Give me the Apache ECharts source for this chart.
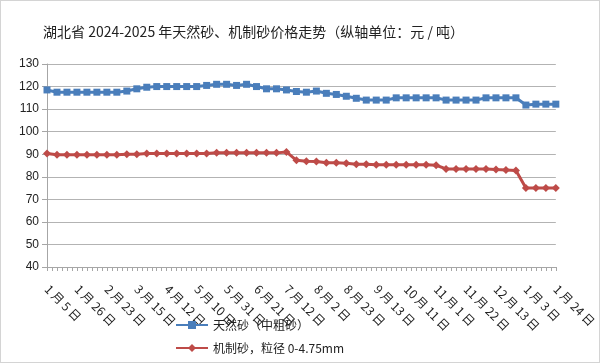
<!DOCTYPE html>
<html>
<head>
<meta charset="utf-8">
<script src="https://cdn.jsdelivr.net/npm/echarts@6/dist/echarts.min.js"></script>
<style>
html,body{margin:0;padding:0;background:#fff;}
#c{width:600px;height:363px;box-sizing:border-box;border:1px solid #d4d4d4;}
</style>
</head>
<body>
<div id="c"></div>
<script>
var titleText = '湖北省 2024-2025 年天然砂、机制砂价格走势（纵轴单位：元 / 吨）';
var categories = ['1 月 5 日','1 月 12 日','1 月 19 日','1 月 26 日','2 月 2 日','2 月 16 日','2 月 23 日','3 月 1 日','3 月 8 日','3 月 15 日','3 月 22 日','3 月 29 日','4 月 12 日','4 月 19 日','4 月 26 日','5 月 10 日','5 月 17 日','5 月 24 日','5 月 31 日','6 月 7 日','6 月 14 日','6 月 21 日','6 月 28 日','7 月 5 日','7 月 12 日','7 月 19 日','7 月 26 日','8 月 2 日','8 月 9 日','8 月 16 日','8 月 23 日','8 月 30 日','9 月 6 日','9 月 13 日','9 月 20 日','9 月 27 日','10 月 11 日','10 月 18 日','10 月 25 日','11 月 1 日','11 月 8 日','11 月 15 日','11 月 22 日','11 月 29 日','12 月 6 日','12 月 13 日','12 月 20 日','12 月 27 日','1 月 3 日','1 月 10 日','1 月 17 日','1 月 24 日'];
var seriesNames = ['天然砂（中粗砂）','机制砂，粒径 0-4.75mm'];
var naturalSand = [118.5,117.5,117.5,117.5,117.5,117.5,117.5,117.5,118,119,119.7,120,120,120,120,120,120.5,121,121,120.5,121,120,119,119,118.5,117.8,117.5,118,117,116.5,115.7,114.8,114,114,114,115,115,115,115,115,114,114,114,114,115,115,115,115,111.8,112.2,112.2,112.2];
var machineSand = [90.3,89.8,89.8,89.8,89.8,89.8,89.8,89.8,90,90,90.3,90.3,90.3,90.3,90.3,90.3,90.3,90.6,90.6,90.6,90.6,90.6,90.6,90.6,91,87.3,86.9,86.8,86.2,86.2,86,85.6,85.6,85.3,85.3,85.3,85.3,85.3,85.3,85.1,83.5,83.5,83.5,83.5,83.5,83.2,83,82.8,75,75,75,75];
var yMin = 40, yMax = 130, yStep = 10;

var chart = echarts.init(document.getElementById('c'), null, {renderer:'canvas'});
chart.setOption({
  animation:false,
  backgroundColor:'#fff',
  title:{text:titleText,left:37,top:19,textStyle:{fontFamily:'Noto Sans CJK SC',fontSize:14,fontWeight:'normal',color:'#222'}},
  grid:{left:46,right:37,top:63,bottom:95,containLabel:false},
  legend:{
    orient:'vertical',left:174,top:318,height:44,padding:0,itemWidth:32,itemHeight:10,itemGap:11,
    textStyle:{fontFamily:'Noto Sans CJK SC',fontSize:12,color:'#222'},
    data:seriesNames
  },
  xAxis:[{
    type:'category',data:categories,boundaryGap:false,
    axisLine:{lineStyle:{color:'#a6a6a6',width:1}},
    axisTick:{show:false},
    axisLabel:{interval:2,rotate:-45,margin:20,fontFamily:'Noto Sans CJK SC',fontSize:12,color:'#222'},
    splitLine:{show:false}
  },{
    type:'value',min:0,max:categories.length-1,interval:0.5,position:'bottom',
    axisLine:{show:false},
    axisTick:{show:true,length:4,lineStyle:{color:'#a6a6a6'}},
    axisLabel:{show:false},splitLine:{show:false}
  }],
  yAxis:{
    type:'value',min:yMin,max:yMax,interval:yStep,
    axisLine:{show:true,lineStyle:{color:'#a6a6a6'}},
    axisTick:{show:true,length:5,lineStyle:{color:'#a6a6a6'}},
    axisLabel:{margin:8,fontFamily:'Liberation Sans',fontSize:12,color:'#222'},
    splitLine:{lineStyle:{color:'#b3b3b3',width:1}}
  },
  series:[{
    name:seriesNames[0],type:'line',data:naturalSand,xAxisIndex:0,
    symbol:'rect',symbolSize:7,showSymbol:true,showAllSymbol:true,
    lineStyle:{color:'#4a7ebb',width:3},
    itemStyle:{color:'#4a7ebb'}
  },{
    name:seriesNames[1],type:'line',data:machineSand,xAxisIndex:0,
    symbol:'diamond',symbolSize:8,showSymbol:true,showAllSymbol:true,
    lineStyle:{color:'#be4b48',width:3},
    itemStyle:{color:'#be4b48'}
  }]
});
</script>
</body>
</html>
